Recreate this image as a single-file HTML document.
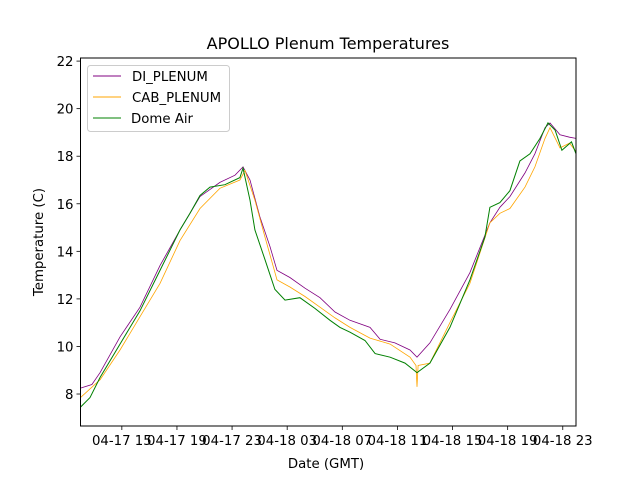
<!DOCTYPE html>
<html><head><meta charset="utf-8"><style>
body{margin:0;background:#fff;}
svg{font-family:"DejaVu Sans","Liberation Sans",sans-serif;}
</style></head><body>
<svg id="chart" width="640" height="480" xmlns="http://www.w3.org/2000/svg">
<rect width="640" height="480" fill="#fff"/>
<text x="328" y="49" text-anchor="middle" font-size="16">APOLLO Plenum Temperatures</text>
<g id="plot"></g>
<text x="326" y="468" text-anchor="middle" font-size="13.3">Date (GMT)</text>
<text transform="translate(43,242) rotate(-90)" text-anchor="middle" font-size="13.3">Temperature (C)</text>
</svg>
<script>
const xTickHours=[15,19,23,27,31,35,39,43,47];
const xTickLabels=["04-17 15","04-17 19","04-17 23","04-18 03","04-18 07","04-18 11","04-18 15","04-18 19","04-18 23"];
const yTicks=[8,10,12,14,16,18,20,22];
const seriesNames=["DI_PLENUM","CAB_PLENUM","Dome Air"];
const diT=[12.0,12.83,13.42,14.87,16.32,17.77,19.22,20.67,22.12,23.21,23.79,24.30,25.02,25.75,26.26,27.20,28.29,29.38,30.47,31.56,33.01,33.74,34.82,35.91,36.42,37.36,38.81,40.26,41.71,42.44,43.16,44.26,44.98,45.71,46.07,46.80,47.49,47.96];
const diV=[8.25,8.4,8.9,10.4,11.65,13.4,14.9,16.3,16.9,17.2,17.55,17.0,15.45,14.2,13.2,12.9,12.45,12.05,11.45,11.1,10.8,10.3,10.15,9.85,9.55,10.15,11.55,13.1,15.2,15.85,16.3,17.3,18.1,19.2,19.4,18.9,18.8,18.75];
const cabT=[12.0,13.42,14.87,16.32,17.77,19.22,20.67,22.12,23.57,23.94,24.66,25.39,26.26,27.20,28.29,29.38,30.47,31.56,33.01,34.47,35.91,36.35,36.42,36.5,37.36,38.81,40.26,41.71,42.44,43.16,44.26,44.98,45.71,46.07,46.80,47.49,47.96];
const cabV=[7.85,8.6,9.85,11.25,12.65,14.45,15.8,16.65,17.0,17.4,16.15,14.6,12.8,12.5,12.1,11.65,11.2,10.8,10.35,10.1,9.55,9.2,8.3,9.2,9.3,11.0,12.65,15.2,15.6,15.8,16.7,17.55,18.75,19.2,18.35,18.55,18.2];
const domeT=[12.0,12.69,13.42,14.87,16.32,17.77,19.22,19.95,20.67,21.4,22.48,23.57,23.79,24.30,24.66,25.39,26.11,26.84,27.92,29.01,30.11,30.83,31.56,32.65,33.38,34.47,35.55,36.42,37.36,38.81,40.26,41.35,41.71,42.44,43.16,43.89,44.62,45.35,45.93,46.44,46.94,47.63,47.96];
const domeV=[7.45,7.85,8.7,10.1,11.5,13.2,14.9,15.6,16.35,16.7,16.8,17.1,17.5,16.15,14.9,13.65,12.4,11.95,12.05,11.6,11.1,10.8,10.6,10.25,9.7,9.55,9.3,8.9,9.3,10.8,12.8,14.6,15.85,16.05,16.55,17.8,18.1,18.75,19.4,19.1,18.25,18.6,18.1];
const L=80.5,R=576,T=58,B=426,X0=12,X1=47.96,Y0=6.655,Y1=22.13;
const xs=h=>L+(h-X0)/(X1-X0)*(R-L);
const ys=v=>B-(v-Y0)/(Y1-Y0)*(B-T);
const NS="http://www.w3.org/2000/svg";
const g=document.getElementById('plot');
function mk(tag,attrs){const e=document.createElementNS(NS,tag);for(const k in attrs)e.setAttribute(k,attrs[k]);g.appendChild(e);return e;}
xTickHours.forEach((h,i)=>{
 const t=mk('line',{x1:xs(h),x2:xs(h),y1:B,y2:B+4,stroke:'#000','stroke-width':0.8});
 
 
 const l=mk('text',{x:xs(h),y:B+19,'text-anchor':'middle','font-size':13.3});
 
 
 l.textContent=xTickLabels[i];
});
yTicks.forEach(v=>{
 const t=mk('line',{x1:L-4,x2:L,y1:ys(v),y2:ys(v),stroke:'#000','stroke-width':0.8});
 
 
 const l=mk('text',{x:L-7,y:ys(v)+5,'text-anchor':'end','font-size':13.3});
 
 
 l.textContent=v;
});
const series=[[diT,diV,'#800080',0.8],[cabT,cabV,'#ffa500',0.8],[domeT,domeV,'#008000',1.0]];
series.forEach((s,i)=>{
 const d=s[0].map((t,j)=>(j?'L':'M')+xs(t).toFixed(1)+','+ys(s[1][j]).toFixed(1)).join('');
 const p=mk('path',{d:d,fill:'none',stroke:s[2],'stroke-width':s[3]});
 
 
});
const fr=mk('rect',{x:L,y:T,width:R-L,height:B-T,fill:'none',stroke:'#000','stroke-width':1});


const lg=mk('rect',{x:87.5,y:65.5,width:142,height:66,rx:3,fill:'#fff','fill-opacity':0.8,stroke:'#ccc'});


series.forEach((s,i)=>{
 const y=76+i*21;
 const ln=mk('line',{x1:93,x2:121,y1:y,y2:y,stroke:s[2],'stroke-width':1});
 
 
 const tx=mk('text',{x:i==2?131:132,y:y+5,'font-size':13.3});
 
 
 tx.textContent=seriesNames[i];
});
</script>
</body></html>
